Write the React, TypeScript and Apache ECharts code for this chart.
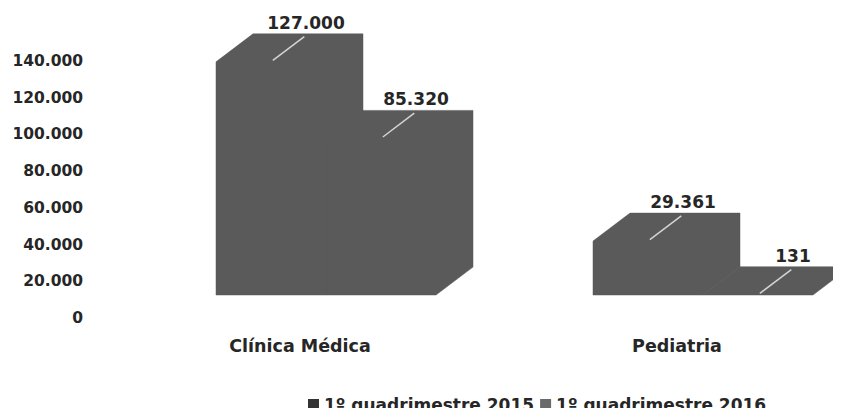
import React, { useEffect, useRef } from "react";
import * as echarts from "echarts";

const categories = ["Clínica Médica", "Pediatria"];
const seriesNames = ["1º quadrimestre 2015", "1º quadrimestre 2016"];
const values2015 = [127000, 29361];
const values2016 = [85320, 131];
const legendColors = ["#333333", "#6a6a6a"];
const yTicks = { min: 0, max: 140000, interval: 20000 };

const FONT = "DejaVu Sans";
const BAR_COLOR = "#5a5a5a";
const DX = 37;
const DY = -28;
const Y_SHIFT = 23;
const BAR_W = 110;
const START_OFF = -84;

function fmt(v: number): string {
  return String(Math.round(v)).replace(/\B(?=(\d{3})+(?!\d))/g, ".");
}

function makeRender(seriesIdx: number) {
  return (params: any, api: any) => {
    const idx = api.value(0);
    const val = api.value(1);
    const top = api.coord([idx, val]);
    const base = api.coord([idx, 0]);
    const x0 = top[0] + START_OFF + seriesIdx * BAR_W;
    const x1 = x0 + BAR_W;
    const yT = top[1] - Y_SHIFT;
    const yB = base[1] - Y_SHIFT;
    const xm = (x0 + x1) / 2;
    return {
      type: "group",
      children: [
        {
          type: "polygon",
          shape: {
            points: [
              [x0, yB],
              [x0, yT],
              [x0 + DX, yT + DY],
              [x1 + DX, yT + DY],
              [x1 + DX, yB + DY],
              [x1, yB],
            ],
          },
          style: { fill: BAR_COLOR, stroke: BAR_COLOR, lineWidth: 0.5 },
          z2: 1,
        },
        {
          type: "line",
          shape: {
            x1: xm + 0.05 * DX,
            y1: yT + 0.05 * DY,
            x2: xm + 0.9 * DX,
            y2: yT + 0.9 * DY,
          },
          style: { stroke: "#d4d4d4", lineWidth: 1.5 },
          z2: 10,
        },
        {
          type: "text",
          x: xm + DX - 2,
          y: yT + DY - 11,
          style: {
            text: fmt(val),
            fill: "#262626",
            font: `bold 17px "${FONT}"`,
            align: "center",
            verticalAlign: "middle",
          },
          z2: 20,
        },
      ],
    };
  };
}

export default function App() {
  const ref = useRef<HTMLDivElement>(null);
  useEffect(() => {
    if (!ref.current) return;
    const chart = echarts.init(ref.current, null, { renderer: "svg" });
    chart.setOption({
      animation: false,
      backgroundColor: "#ffffff",
      grid: { left: 300, right: 164, top: 61, bottom: 98 },
      xAxis: {
        type: "category",
        data: categories,
        boundaryGap: false,
        axisLine: { show: false },
        axisTick: { show: false },
        axisLabel: {
          margin: 19,
          color: "#262626",
          fontFamily: FONT,
          fontWeight: "bold",
          fontSize: 17.5,
        },
      },
      yAxis: {
        type: "value",
        min: yTicks.min,
        max: yTicks.max,
        interval: yTicks.interval,
        offset: 209,
        splitLine: { show: false },
        axisLine: { show: false },
        axisTick: { show: false },
        axisLabel: {
          margin: 8,
          color: "#262626",
          fontFamily: FONT,
          fontWeight: "bold",
          fontSize: 15.5,
          formatter: (v: number) => fmt(v),
        },
      },
      legend: {
        left: 303,
        top: 391,
        itemGap: 6,
        itemWidth: 11,
        itemHeight: 11,
        icon: "rect",
        textStyle: {
          color: "#262626",
          fontFamily: FONT,
          fontWeight: "bold",
          fontSize: 17,
        },
        data: seriesNames,
      },
      series: [values2015, values2016].map((vals, si) => ({
        type: "custom",
        name: seriesNames[si],
        color: legendColors[si],
        clip: false,
        renderItem: makeRender(si),
        encode: { x: 0, y: 1 },
        data: vals.map((v, i) => [i, v]),
        z: 2 + si,
      })),
    });
    return () => chart.dispose();
  }, []);
  return <div ref={ref} style={{ width: 841, height: 416, margin: -8 }} />;
}
